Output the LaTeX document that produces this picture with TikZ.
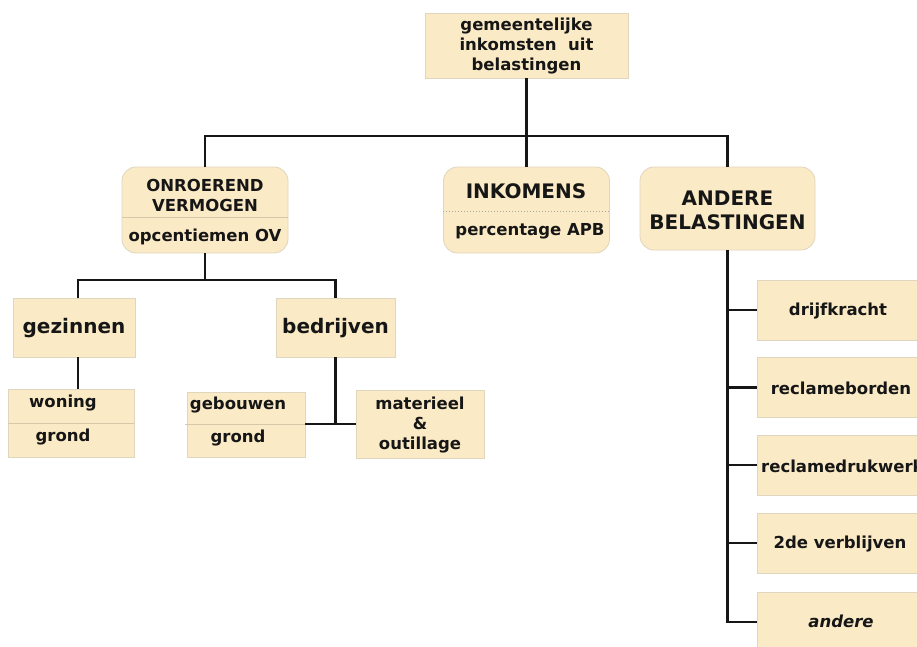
\documentclass[tikz,border=0pt]{standalone}
\usepackage{fontspec}
\setmainfont{DejaVu Sans}
\usetikzlibrary{calc}
\definecolor{boxfill}{RGB}{250,234,197}
\definecolor{boxline}{RGB}{224,214,190}
\definecolor{divline}{RGB}{214,200,168}
\definecolor{ink}{RGB}{22,22,22}
\tikzset{
  x=1pt, y=-1pt,
  box/.style={draw=boxline, fill=boxfill, line width=0.8pt, inner sep=0pt},
  rbox/.style={box, rounded corners=14pt},
  lbl/.style={text=ink, font=\fontsize{16.5}{20}\selectfont\bfseries, align=center, inner sep=0pt},
  biglbl/.style={lbl, font=\fontsize{20}{24}\selectfont\bfseries},
  conn/.style={draw=ink, line width=2.8pt},
  divider/.style={draw=divline, line width=0.8pt},
  dotdiv/.style={draw=gray!70, line width=1pt, dotted},
}
\begin{document}
\begin{tikzpicture}
\useasboundingbox (0,0) rectangle (917,646);
\clip (0,0) rectangle (917,646);
\fill[white] (0,0) rectangle (917,646);

% top box
\node[box, minimum width=203pt, minimum height=65pt] (top) at (526.5,45.5) {};
\node[lbl] (topT) at (526.5,46) {gemeentelijke\\inkomsten\ \ uit\\belastingen};

% three main categories
\node[rbox, minimum width=166pt, minimum height=86pt] (ov) at (205,210) {};
\node[lbl] (ovT) at (205,195) {ONROEREND\\VERMOGEN};
\draw[divider] (ov.west |- 0,217) -- (ov.east |- 0,217);
\node[lbl] (ovB) at (205,237) {opcentiemen OV};

\node[rbox, minimum width=166pt, minimum height=86pt] (inkb) at (526.5,210) {};
\node[biglbl] (inkT) at (526,191) {INKOMENS};
\draw[dotdiv] (inkb.west |- 0,211) -- (inkb.east |- 0,211);
\node[lbl] (inkB) at (530,231) {percentage APB};

\node[rbox, minimum width=175pt, minimum height=83pt] (and) at (727.5,208.5) {};
\node[biglbl] (andT) at (727.5,210) {ANDERE\\BELASTINGEN};

% onroerend vermogen: subdivisions
\node[box, minimum width=122pt, minimum height=59pt] (gez) at (74,327.5) {};
\node[biglbl] (gezT) at (74,328) {gezinnen};
\node[box, minimum width=119pt, minimum height=59pt] (bed) at (335.5,327.5) {};
\node[biglbl] (bedT) at (335.5,328) {bedrijven};

\node[box, minimum width=126pt, minimum height=68pt] (won) at (71,423) {};
\draw[divider] (won.west |- 0,423) -- (won.east |- 0,423);
\node[lbl] (wonA) at (63,403) {woning};
\node[lbl] (wonB) at (63,437) {grond};

\node[box, minimum width=118pt, minimum height=65pt] (geb) at (246,424.5) {};
\draw[divider] (185,424) -- (geb.east |- 0,424);
\node[lbl] (gebA) at (238,405) {gebouwen};
\node[lbl] (gebB) at (238,438) {grond};

\node[box, minimum width=128pt, minimum height=68pt] (mat) at (420,424) {};
\node[lbl] (matT) at (420,425) {materieel\\\&\\outillage};

% andere belastingen: list
\node[box, minimum width=168pt, minimum height=60pt] (r1) at (841,310) {};
\node[lbl] (r1T) at (838,311) {drijfkracht};
\node[box, minimum width=168pt, minimum height=60pt] (r2) at (841,387.5) {};
\node[lbl] (r2T) at (841,388) {reclameborden};
\node[box, minimum width=168pt, minimum height=60pt] (r3) at (841,465) {};
\node[lbl, anchor=west] (r3T) at (761,466) {reclamedrukwerk};
\node[box, minimum width=168pt, minimum height=60pt] (r4) at (841,543) {};
\node[lbl] (r4T) at (840,544) {2de verblijven};
\node[box, minimum width=168pt, minimum height=60pt] (r5) at (841,622) {};
\node[lbl, font=\fontsize{16.5}{20}\selectfont\bfseries\itshape] (r5T) at (841,621) {andere};

% connectors
\coordinate (hub) at (top.south |- 0,136);
\draw[conn] (top.south) -- (hub);
\draw[conn] (ov.north) |- (hub) -| (and.north);
\draw[conn] (hub) -- (inkb.north);

\coordinate (ovhub) at (ov.south |- 0,280);
\draw[conn] (ov.south) -- (ovhub);
\draw[conn] (gez.north -| 78,0) |- (ovhub) -| (bed.north);

\draw[conn] (gez.south -| 78,0) -- (won.north -| 78,0);
\draw[conn] (bed.south) -- (bed.south |- 0,424);
\draw[conn] (geb.east |- 0,424) -- (mat.west |- 0,424);

\coordinate (trunk) at (and.south |- r5.west);
\draw[conn] (and.south) -- (trunk) -- (r5.west);
\foreach \r in {r1,r2,r3,r4}{
  \draw[conn] (and.south |- \r.west) -- (\r.west);
}
\end{tikzpicture}
\end{document}
